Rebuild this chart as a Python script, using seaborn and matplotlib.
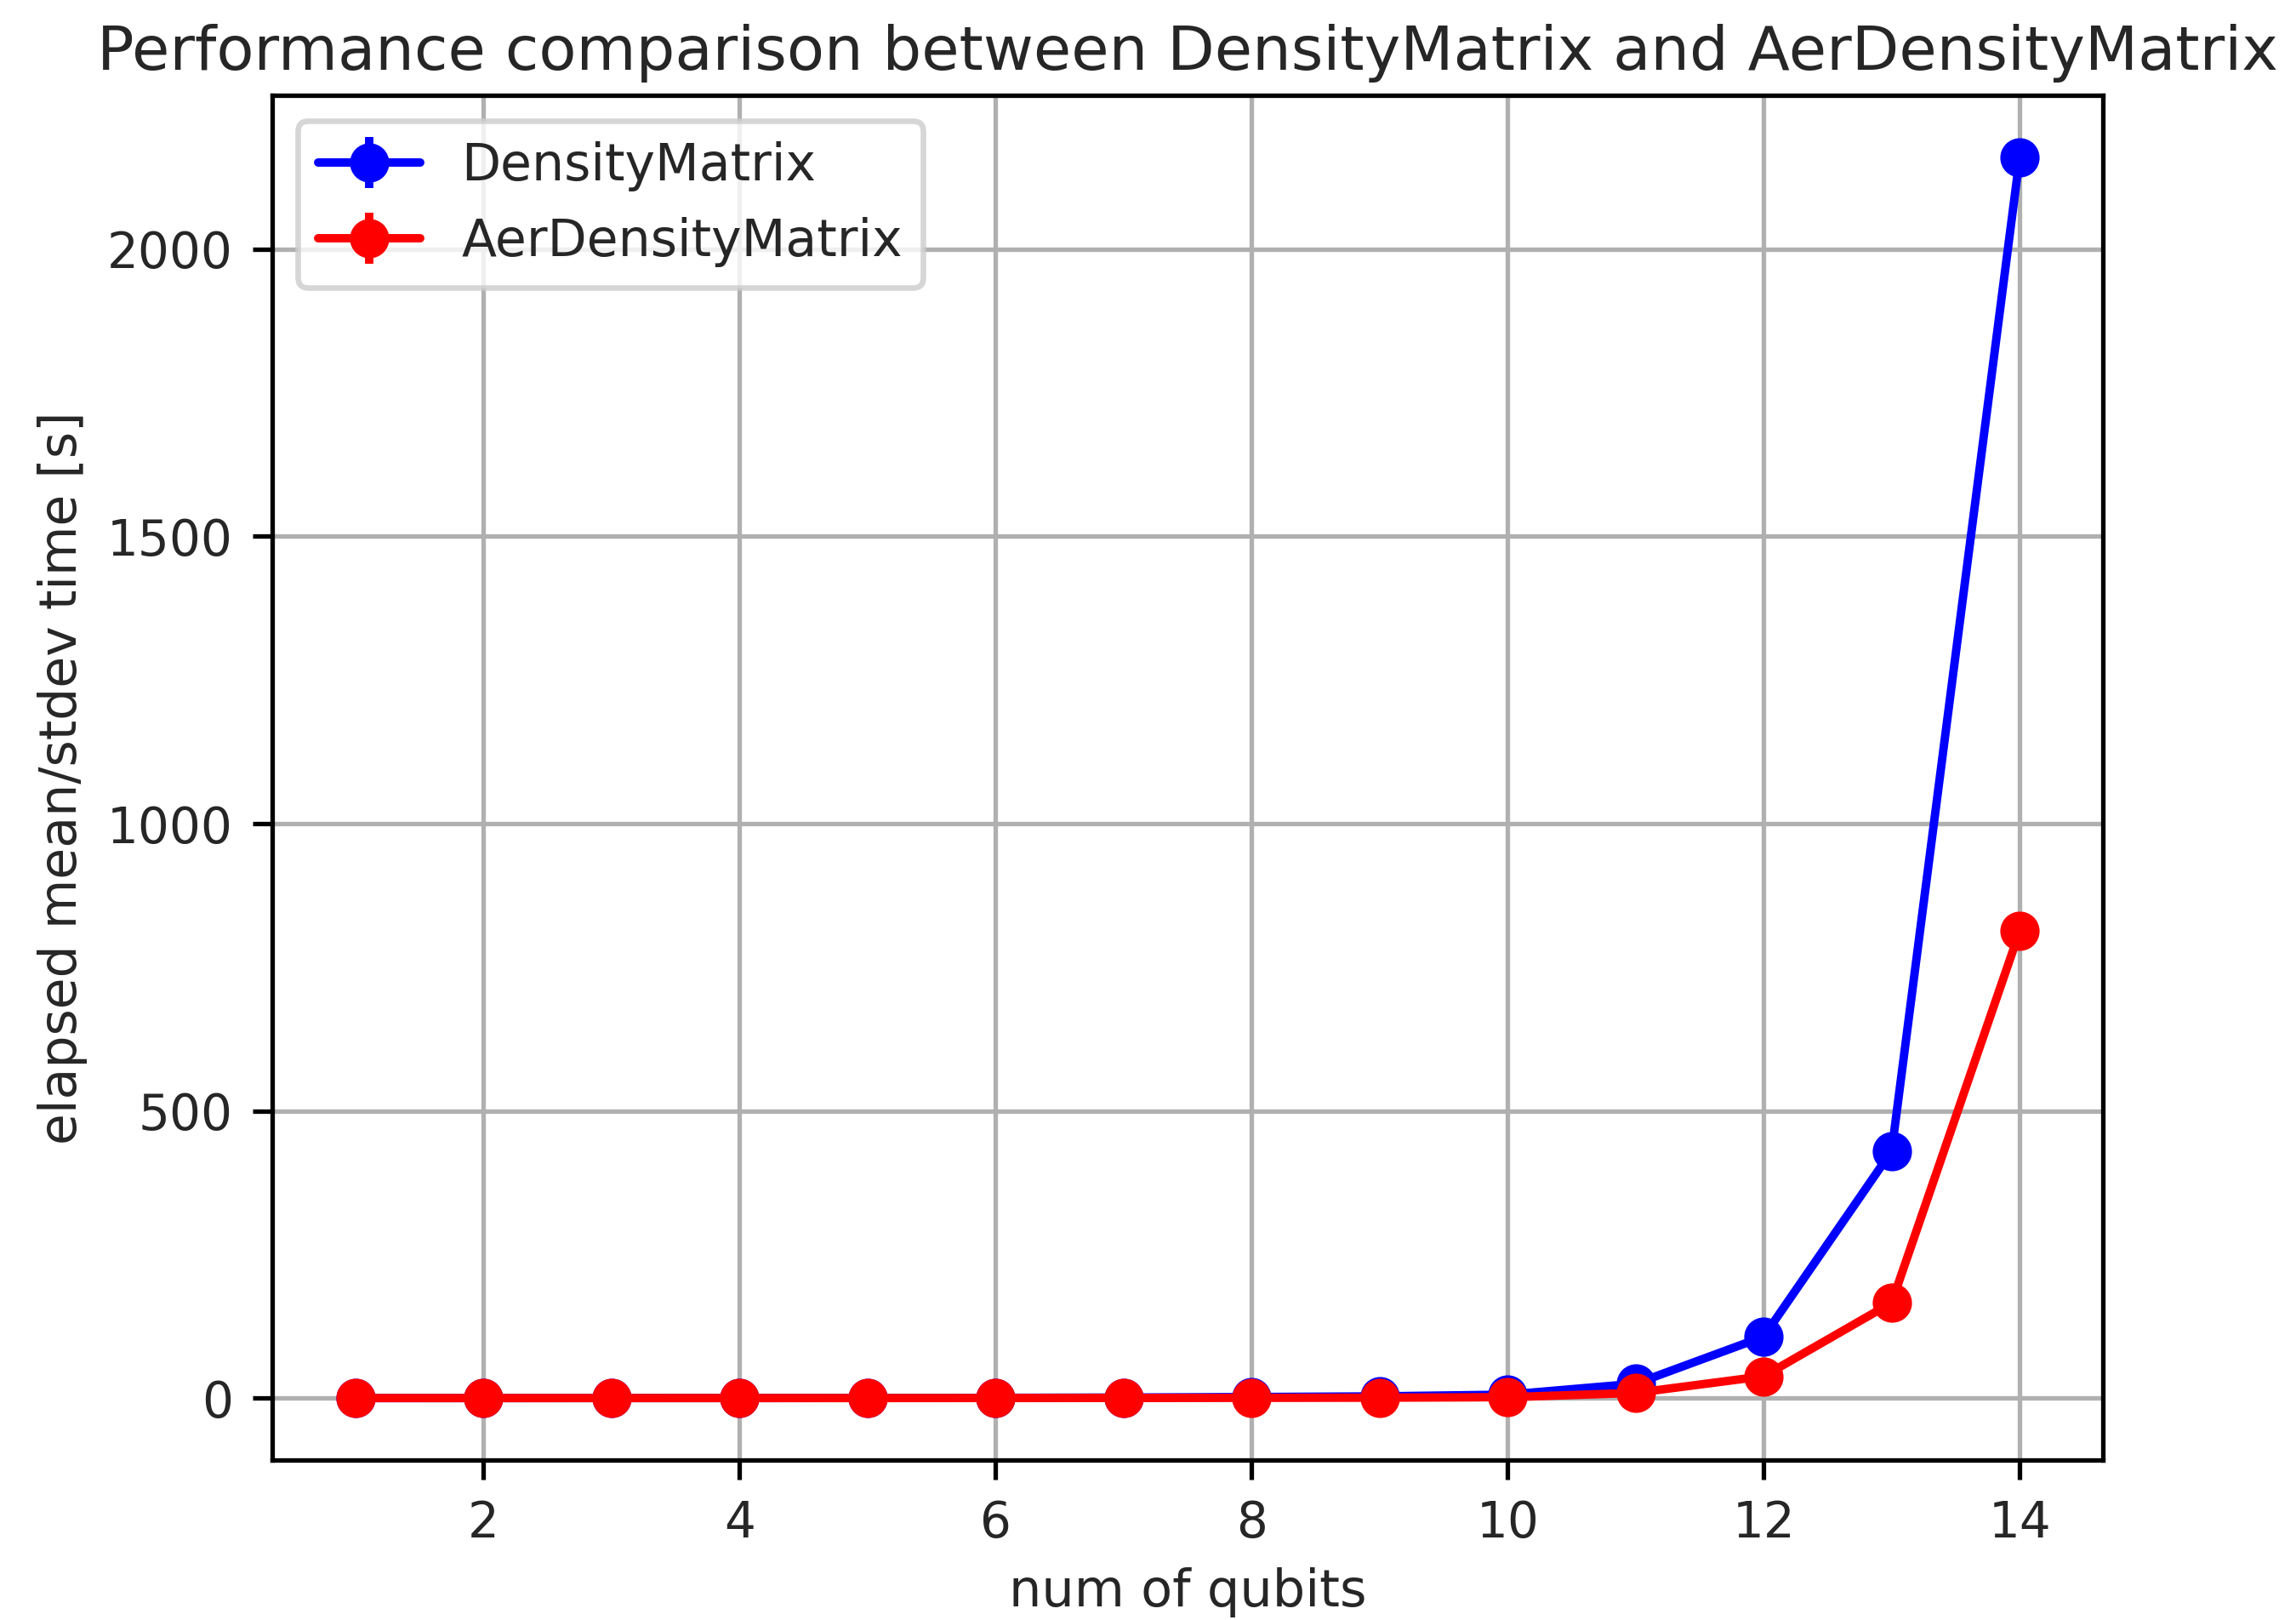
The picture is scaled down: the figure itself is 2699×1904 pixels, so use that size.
import matplotlib
matplotlib.use("Agg")
import matplotlib.pyplot as plt
import seaborn as sns
import pandas as pd
from matplotlib.container import ErrorbarContainer
from matplotlib.lines import Line2D
from matplotlib.collections import LineCollection

# data
num_qubits = [1, 2, 3, 4, 5, 6, 7, 8, 9, 10, 11, 12, 13, 14]
density_matrix = [0.01, 0.02, 0.04, 0.08, 0.2, 0.4, 0.9, 1.8, 3.0, 6.0, 25.0, 107.0, 430.0, 2160.0]
aer_density_matrix = [0.01, 0.01, 0.02, 0.03, 0.05, 0.1, 0.2, 0.4, 0.7, 1.5, 9.0, 38.0, 166.0, 813.0]

series_names = ["DensityMatrix", "AerDensityMatrix"]
series_colors = ["blue", "red"]

df = pd.DataFrame({
    "num of qubits": num_qubits * 2,
    "elapsed": density_matrix + aer_density_matrix,
    "method": [series_names[0]] * len(num_qubits) + [series_names[1]] * len(num_qubits),
})

sns.set_style("ticks", {"axes.grid": True, "axes.edgecolor": "black",
                        "grid.color": "#b0b0b0", "xtick.direction": "out",
                        "ytick.direction": "out"})
plt.rcParams["font.family"] = ["DejaVu Sans"]

DPI = 475
fig = plt.figure(figsize=(2699 / DPI, 1904 / DPI), dpi=DPI)
ax = fig.add_axes([0.1186, 0.0987, 0.9159 - 0.1186, 0.9412 - 0.0987])

sns.lineplot(data=df, x="num of qubits", y="elapsed", hue="method",
             palette=dict(zip(series_names, series_colors)), marker="o",
             markersize=6, markeredgewidth=1, linewidth=1.5, legend=False, ax=ax)
for line, c in zip(ax.lines, series_colors):
    line.set_markeredgecolor(c)

ax.margins(x=0.05, y=0.05)
ax.set_xticks([2, 4, 6, 8, 10, 12, 14])
ax.set_yticks([0, 500, 1000, 1500, 2000])
ax.grid(True, color="#b0b0b0", linewidth=0.8)
for s in ax.spines.values():
    s.set_linewidth(0.8)
    s.set_color("black")
ax.tick_params(labelsize=8.8, length=3.5, width=0.8, color="black", pad=3.5)

ax.set_xlabel("num of qubits", fontsize=9.2, labelpad=3.5)
ax.set_ylabel("elapsed mean/stdev time [s]", fontsize=9.1, labelpad=3.5)
ax.set_title("Performance comparison between DensityMatrix and AerDensityMatrix",
             fontsize=10.95, pad=4.5)

# legend in errorbar style
handles = []
for name, c in zip(series_names, series_colors):
    ln = Line2D([], [], color=c, marker="o", markersize=6, linewidth=1.5)
    bars = LineCollection([], colors=c, linewidths=1.5)
    handles.append(ErrorbarContainer((ln, (), (bars,)), has_xerr=False,
                                     has_yerr=True, label=name))
ax.legend(handles=handles, labels=series_names, loc="upper left", fontsize=9.1)

fig.savefig("out.png", dpi=DPI)
